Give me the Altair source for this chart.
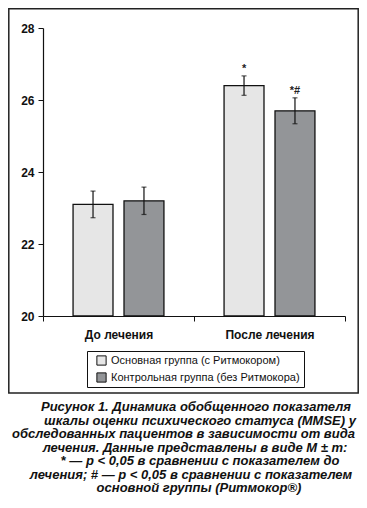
import altair as alt
import pandas as pd

period_order = ["До лечения", "После лечения"]
group_order = ["Основная группа  (с Ритмокором)", "Контрольная группа (без Ритмокора)"]
periods = ["До лечения", "До лечения", "После лечения", "После лечения"]
groups = [group_order[0], group_order[1], group_order[0], group_order[1]]
means = [23.1, 23.2, 26.4, 25.7]
errors = [0.37, 0.38, 0.27, 0.36]
signif = ["", "", "*", "*#"]
bar_colors = ["#e6e6e6", "#939598"]
y_ticks = [20, 22, 24, 26, 28]
caption_lines = [
    "Рисунок 1. Динамика обобщенного показателя",
    "шкалы оценки психического статуса (MMSE) у",
    "обследованных пациентов в зависимости от вида",
    "лечения. Данные представлены в виде M ± m:",
    "* — p < 0,05 в сравнении с показателем до",
    "лечения; # — p < 0,05 в сравнении с показателем",
    "основной группы (Ритмокор®)",
]

df = pd.DataFrame({"period": periods, "group": groups, "mean": means, "err": errors, "sig": signif})
df["lo"] = df["mean"] - df["err"]
df["hi"] = df["mean"] + df["err"]

FONT = "Liberation Sans"

x_enc = alt.X(
    "period:N", sort=period_order,
    scale=alt.Scale(paddingInner=0, paddingOuter=0),
    axis=alt.Axis(title=None, labelAngle=0, tickBand="extent", labelFont=FONT,
                  labelFontWeight="bold", labelFontSize=12, labelColor="#111",
                  labelPadding=8, domainColor="#111", domainWidth=1.2,
                  tickColor="#111", tickSize=5, tickWidth=1),
)
xo_enc = alt.XOffset("group:N", sort=group_order,
                     scale=alt.Scale(paddingInner=0.216, paddingOuter=0.59))
y_scale = alt.Scale(domain=[20, 28], zero=False, nice=False)
x_plain = alt.X("period:N", sort=period_order)

base = alt.Chart(df)

bars = base.mark_bar(stroke="#111", strokeWidth=1.3).encode(
    x=x_enc, xOffset=xo_enc,
    y=alt.Y("mean:Q", scale=y_scale,
            axis=alt.Axis(title=None, values=y_ticks, grid=False, labelFont=FONT,
                          labelFontWeight="bold", labelFontSize=12, labelColor="#111",
                          labelPadding=4, domainColor="#111", domainWidth=1.2,
                          tickColor="#111", tickSize=5, tickWidth=1)),
    y2=alt.datum(20),
    color=alt.Color("group:N", sort=group_order,
                    scale=alt.Scale(domain=group_order, range=bar_colors),
                    legend=alt.Legend(title=None, orient="none", legendX=44, legendY=323,
                                      fillColor="white", strokeColor="#111", padding=4,
                                      symbolType="square", symbolSize=85,
                                      symbolStrokeColor="#111", symbolStrokeWidth=1,
                                      symbolOffset=5, labelFont=FONT, labelFontSize=11,
                                      labelColor="#111", labelOffset=4, rowPadding=5,
                                      clipHeight=11, labelLimit=400)),
)

rules = base.mark_rule(color="#111", strokeWidth=1.2).encode(
    x=x_plain, xOffset=xo_enc,
    y=alt.Y("lo:Q", scale=y_scale), y2="hi:Q",
)
cap_hi = base.mark_tick(color="#111", size=5, thickness=1.2).encode(
    x=x_plain, xOffset=xo_enc, y=alt.Y("hi:Q", scale=y_scale),
)
cap_lo = base.mark_tick(color="#111", size=5, thickness=1.2).encode(
    x=x_plain, xOffset=xo_enc, y=alt.Y("lo:Q", scale=y_scale),
)
stars = base.mark_text(font=FONT, fontSize=11, fontWeight="bold", color="#222",
                       baseline="bottom", dy=-2).encode(
    x=x_plain, xOffset=xo_enc, y=alt.Y("hi:Q", scale=y_scale), text="sig:N",
)

one = pd.DataFrame({"k": [0]})
frame = alt.Chart(one).mark_rect(fill=None, stroke="#222", strokeWidth=1.5).encode(
    x=alt.value(-34.2), x2=alt.value(315.2), y=alt.value(-19.2), y2=alt.value(365),
)

# caption layout (line centres and baselines, in plot pixels)
cap_x = [153, 157, 140.5, 152, 157, 148, 156]
cap_layers = []
for i, line in enumerate(caption_lines):
    cap_layers.append(
        alt.Chart(one).mark_text(
            font=FONT, fontSize=13, fontWeight="bold", fontStyle="italic", color="#111",
            align="center", baseline="alphabetic",
        ).encode(x=alt.value(cap_x[i]), y=alt.value(383 + i * 13.5), text=alt.value(line))
    )

chart = alt.layer(frame, bars, rules, cap_hi, cap_lo, stars, *cap_layers).properties(
    width=302, height=288,
    autosize=alt.AutoSizeParams(type="none"),
    padding={"left": 35, "top": 20, "right": 14, "bottom": 179},
).configure_view(stroke=None)

chart.save("out.html", embed_options={"renderer": "svg", "actions": False})
